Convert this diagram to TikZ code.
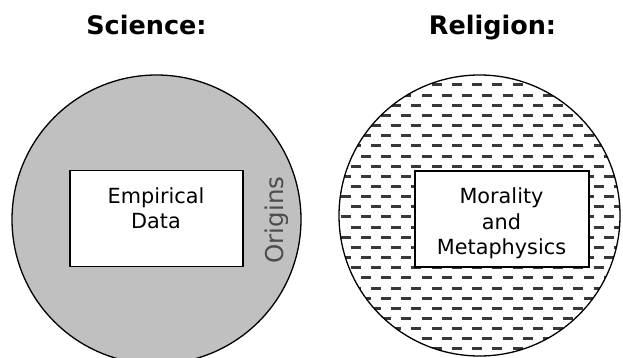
\documentclass[tikz,border=0pt]{standalone}
\usepackage{fontspec}
\setmainfont{DejaVu Sans}
\definecolor{silver}{RGB}{192,192,192}
\begin{document}
\begin{tikzpicture}[x=1pt, y=-1pt,
      world/.style = {draw, circle, line width=1.3pt, inner sep=0pt},
      box/.style = {draw, fill=white, line width=1.4pt, minimum width=173pt, minimum height=96pt, inner sep=0pt},
      boxtext/.style = {align=center, font=\fontsize{20.8}{25.5}\selectfont, anchor=base},
      title/.style = {font=\fontsize{25.5}{30}\selectfont\bfseries, anchor=base},
      hatch/.style = {line width=3pt, black!78}]
    \clip (0,0) rectangle (623,358);

    % circles
    \node[world, fill=silver, minimum size=289pt] (sci) at (156.5,219.5) {};
    \coordinate (relc) at (479.5,215.5);

    % dashed filling
    \begin{scope}
      \clip (relc) circle (140.5);
      \foreach \k in {0,...,28} {
        \pgfmathsetmacro{\shift}{mod(\k,2)*10.1}
        \foreach \n in {0,...,14}
          \draw[hatch] (330.45+\shift+20.25*\n, 85+10.15*\k) -- ++(10,0);
      }
    \end{scope}
    \node[world, minimum size=281pt] (rel) at (relc) {};

    % boxes
    \node[box] (emp) at (156.5,218.5) {};
    \node[box, minimum width=174pt] (mor) at (502,219) {};
    \node[boxtext] (emptext) at (156,228.8) {Empirical\\Data};
    \node[boxtext] (mortext) at (501.5,254.5) {Morality\\and\\Metaphysics};
    \node[font=\fontsize{24.5}{30}\selectfont, text=black!70, rotate=90, anchor=base] (orig) at (283,220) {Origins};

    % titles
    \node[title] (scititle) at (146.5,35) {Science:};
    \node[title] (reltitle) at (492.5,35) {Religion:};
\end{tikzpicture}
\end{document}
